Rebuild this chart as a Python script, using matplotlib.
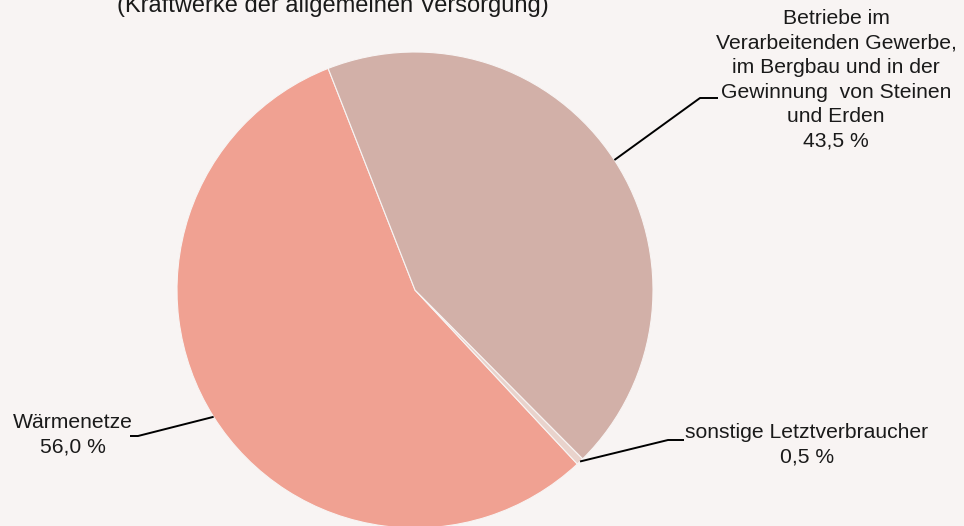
import numpy as np
import matplotlib
matplotlib.use("Agg")
import matplotlib.pyplot as plt

categories = ["Wärmenetze", "sonstige Letztverbraucher",
              "Betriebe im\nVerarbeitenden Gewerbe,\nim Bergbau und in der\nGewinnung  von Steinen\nund Erden"]
values = [56.0, 0.5, 43.5]
value_labels = ["56,0 %", "0,5 %", "43,5 %"]
colors = ["#F0A192", "#E9D3CC", "#D2B0A8"]
title = "(Kraftwerke der allgemeinen Versorgung)"

W, H = 964, 526
fig = plt.figure(figsize=(W / 100, H / 100), dpi=100, facecolor="#F8F4F3")
ax = fig.add_axes([0, 0, 1, 1])
ax.set_facecolor("#F8F4F3")
plt.rcParams['font.family'] = ['Liberation Sans', 'DejaVu Sans']

cx, cy, r = 415, H - 290, 238
wedges, _ = ax.pie(values, colors=colors, startangle=111.4, counterclock=True,
                   center=(cx, cy), radius=r,
                   wedgeprops=dict(linewidth=0.8, edgecolor="#F8F4F3"))
ax.set_xlim(0, W)
ax.set_ylim(0, H)
ax.set_aspect('equal')
ax.axis('off')

fs = 15.2
# label layout: (elbow x, elbow y px, text end x, text x, text y px)
layout = [
    (138, 436, 130, 73, 435),
    (668, 440, 684, 807, 445),
    (700, 98, 718, 836, 80),
]
for w, cat, vl, (ex, ey, tx, lx, ly) in zip(wedges, categories, value_labels, layout):
    mid = np.deg2rad((w.theta1 + w.theta2) / 2)
    px, py = cx + r * np.cos(mid), cy + r * np.sin(mid)
    ax.plot([px, ex, tx], [py, H - ey, H - ey], color="black", lw=1.4,
            solid_capstyle="butt", clip_on=False)
    ax.text(lx, H - ly, cat + "\n" + vl, ha="center", va="center",
            fontsize=fs, color="#1a1a1a", linespacing=1.36)

ax.text(333, H - 12, title, ha="center", va="baseline", fontsize=17,
        color="#1a1a1a")

fig.savefig("out.png", dpi=100, facecolor=fig.get_facecolor())
